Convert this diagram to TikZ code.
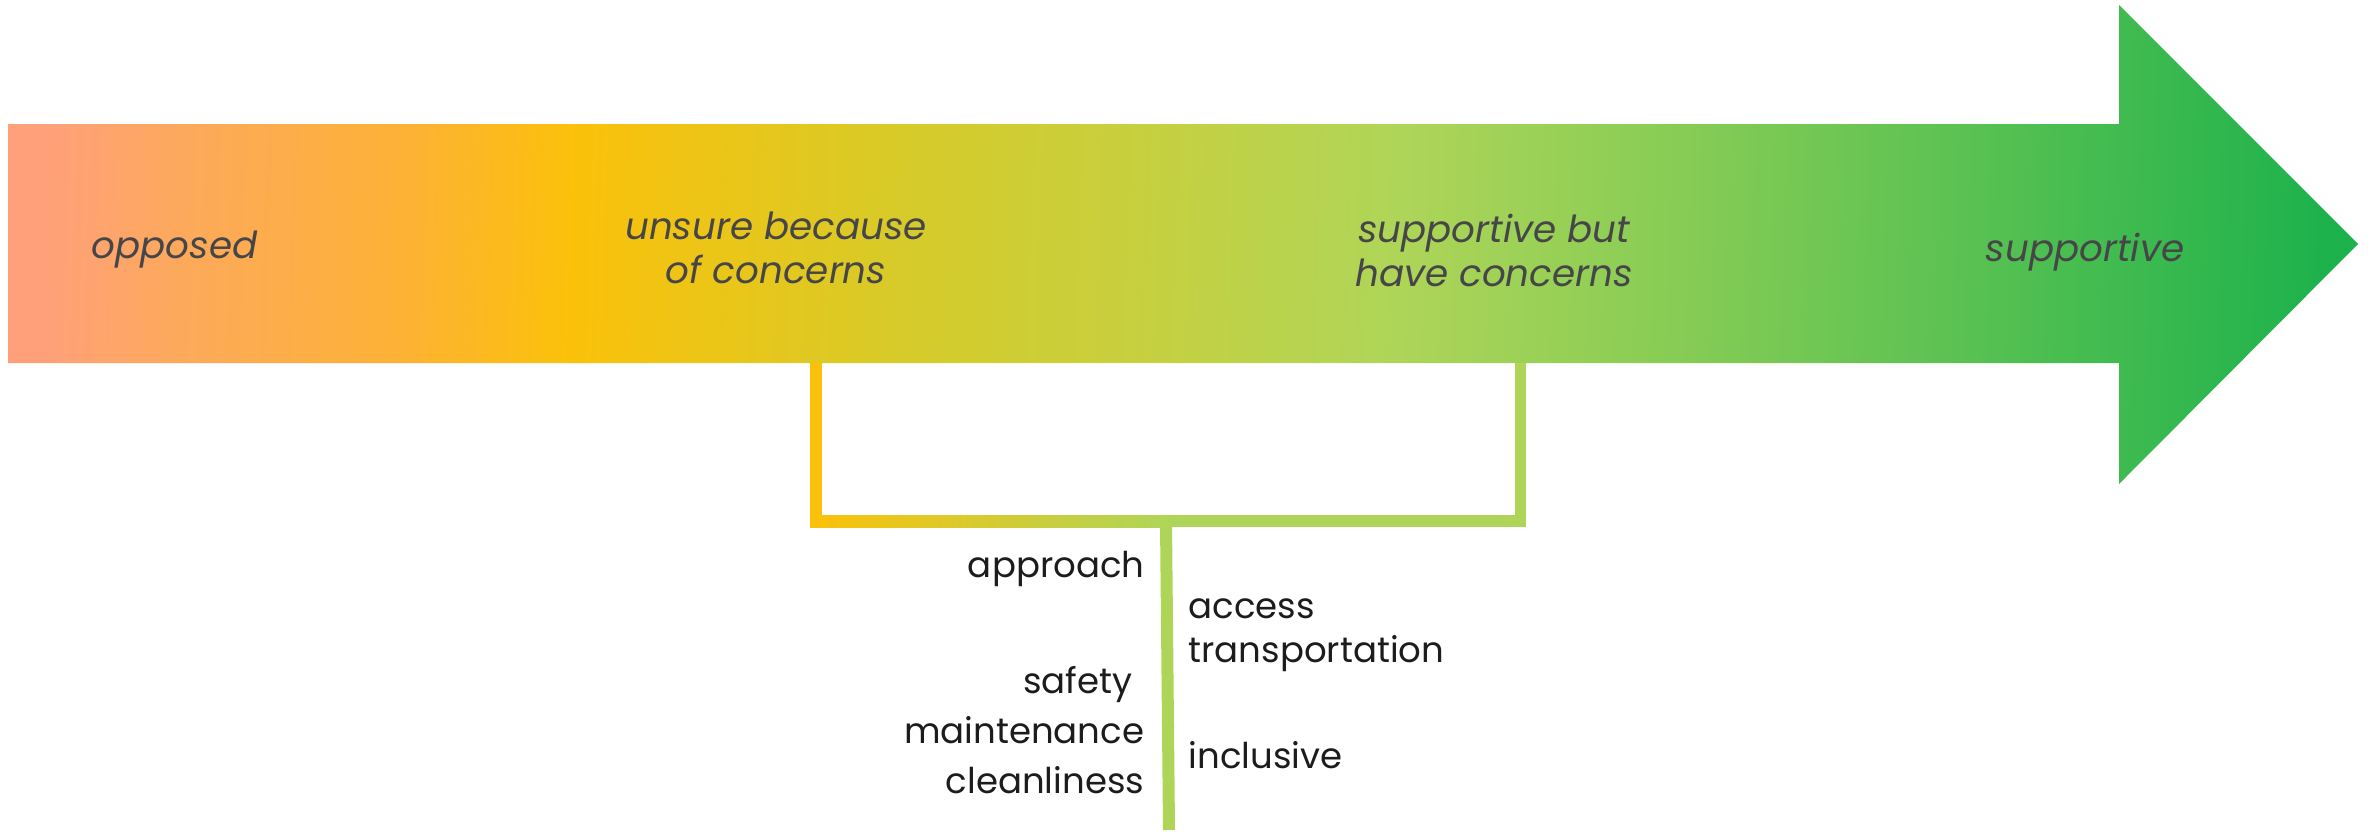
\documentclass[tikz,border=0pt]{standalone}
\usepackage{fontspec}
\setmainfont{Poppins}
\usepackage{tikz}
\usetikzlibrary{calc}

\definecolor{opposedcol}{HTML}{FFA07A}
\definecolor{salmonorange}{HTML}{FDA95C}
\definecolor{lightorange}{HTML}{FDB234}
\definecolor{unsurecol}{HTML}{FBC10A}
\definecolor{mustard}{HTML}{D6CB2A}
\definecolor{olive}{HTML}{C6D040}
\definecolor{havecol}{HTML}{AFD558}
\definecolor{midgreen}{HTML}{86CC55}
\definecolor{leafgreen}{HTML}{58C152}
\definecolor{supportcol}{HTML}{1EB24C}
\definecolor{labelgray}{HTML}{464648}
\definecolor{topicblack}{HTML}{1C1C1C}

\pgfdeclarehorizontalshading{attitude}{100bp}{
  color(0bp)=(opposedcol); color(25bp)=(opposedcol); color(28bp)=(salmonorange);
  color(33bp)=(lightorange); color(36.6bp)=(unsurecol); color(44bp)=(mustard);
  color(49.3bp)=(olive); color(54.6bp)=(havecol); color(61bp)=(midgreen);
  color(67.4bp)=(leafgreen); color(75bp)=(supportcol); color(100bp)=(supportcol)}

\begin{document}
\begin{tikzpicture}[x=0.01cm, y=-0.01cm,
  stage/.style={text=labelgray, font=\fontsize{10.6pt}{12.5pt}\selectfont\itshape, align=center, inner sep=0pt},
  topic/.style={text=topicblack, font=\fontsize{10.1pt}{12pt}\selectfont, inner sep=0pt}]
  \useasboundingbox (0,0) rectangle (2372,836);

  % the big arrow
  \shade[shading=attitude, shading angle=-2] (8,124) -- (2119,124) -- (2119,5) -- (2358,244)
    -- (2119,484) -- (2119,363) -- (8,363) -- cycle;

  \node[stage, anchor=base west] (opposed) at (91,258) {opposed};
  \node[stage] (unsure) at (776,248) {unsure because\\of concerns};
  \node[stage] (havecon) at (1494,250) {supportive but\\have concerns};
  \node[stage, anchor=base] (support) at (2085,261) {supportive};

  % bracket under the two middle stages
  \coordinate (lfoot) at (816,363);
  \coordinate (rfoot) at (1520,363);
  \coordinate (hub) at (1166,521);
  \coordinate (tail) at (1169,830);

  \fill[unsurecol] ($(lfoot)+(-6,0)$) rectangle ($(lfoot |- hub)+(6,6)$);
  \shade[left color=unsurecol, right color=havecol] ($(lfoot |- hub)+(-6,-6)$) rectangle ($(hub)+(0,6)$);
  \fill[havecol] ($(hub)+(0,-6)$) rectangle ($(rfoot |- hub)+(6,6)$);
  \fill[havecol] ($(rfoot)+(-5,0)$) rectangle ($(rfoot |- hub)+(6,6)$);
  \draw[havecol, line width=0.12cm] (hub) -- (tail);

  \node[topic, anchor=base east] (approach) at (1145,577) {approach};
  \node[topic, anchor=base west] (access) at (1188,618) {access};
  \node[topic, anchor=base west] (transport) at (1188,662) {transportation};
  \node[topic, anchor=base east] (safety) at (1133,693) {safety};
  \node[topic, anchor=base east] (maintain) at (1145,743) {maintenance};
  \node[topic, anchor=base west] (inclusive) at (1188,768) {inclusive};
  \node[topic, anchor=base east] (clean) at (1145,793) {cleanliness};
\end{tikzpicture}
\end{document}
